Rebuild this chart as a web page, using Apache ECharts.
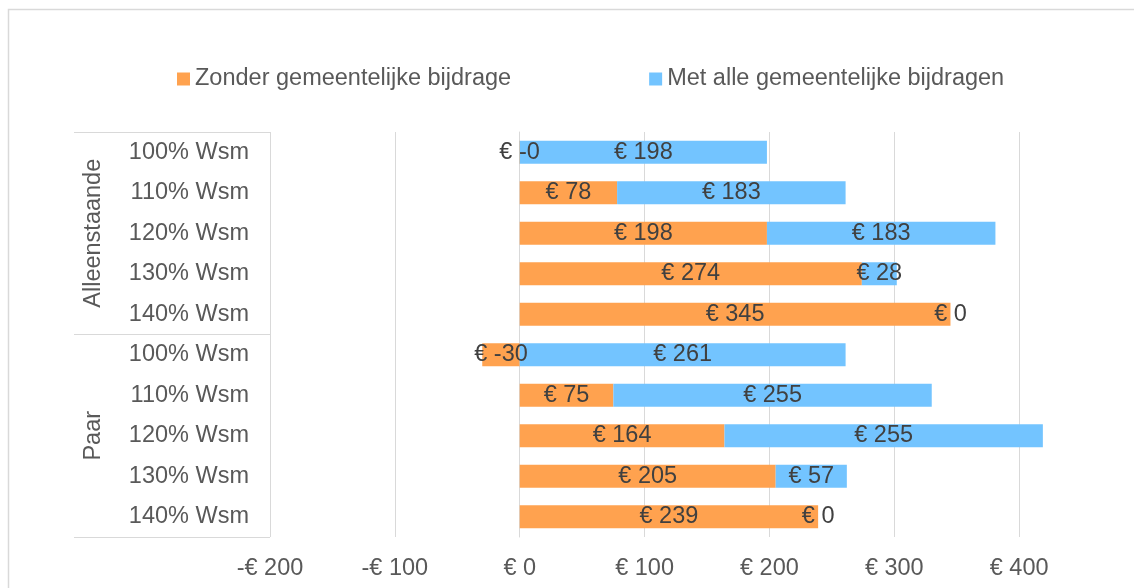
<!DOCTYPE html>
<html>
<head>
<meta charset="utf-8">
<script src="https://cdn.jsdelivr.net/npm/echarts@6/dist/echarts.min.js"></script>
<style>
  html, body { margin: 0; padding: 0; background: #fff; }
  #chart { width: 1134px; height: 588px; }
</style>
</head>
<body>
<div id="chart"></div>
<script>
// categorieën
const categories = [
  '100% Wsm', '110% Wsm', '120% Wsm', '130% Wsm', '140% Wsm',
  '100% Wsm', '110% Wsm', '120% Wsm', '130% Wsm', '140% Wsm'
];
const groups = ['Alleenstaande', 'Paar'];

// waarden per reeks
const zonderBijdrage = [-0.3, 78, 198, 274, 345, -30, 75, 164, 205, 239];
const metBijdragen = [198, 183, 183, 28, 0, 261, 255, 255, 57, 0];

const xTicks = { min: -200, max: 500, step: 100 };

const font = "'Liberation Sans', Arial, sans-serif";
const gridColor = '#d9d9d9';

function euro(v) {
  const r = Math.round(Math.abs(v));
  return v < 0 ? '€ -' + r : '€ ' + r;
}

const chartOpts = {
  animation: false,
  textStyle: { fontFamily: font },
  legend: {
    left: 172,
    top: 62,
    icon: 'rect',
    itemWidth: 13,
    itemHeight: 13,
    itemGap: 138,
    textStyle: { fontSize: 23.5, color: '#595959', fontFamily: font },
    data: ['Zonder gemeentelijke bijdrage', 'Met alle gemeentelijke bijdragen']
  },
  grid: {
    left: 270,
    top: 132,
    width: 874,
    height: 405,
    outerBoundsMode: 'none'
  },
  xAxis: {
    type: 'value',
    min: xTicks.min,
    max: xTicks.max,
    interval: xTicks.step,
    axisLine: { show: false },
    axisTick: { show: false },
    splitLine: { lineStyle: { color: gridColor, width: 1 } },
    axisLabel: {
      showMaxLabel: false,
      margin: 20,
      fontSize: 23.5,
      color: '#595959',
      fontFamily: font,
      formatter: v => v < 0 ? '-€ ' + Math.abs(v) : '€ ' + v
    }
  },
  yAxis: [
    {
      type: 'category',
      inverse: true,
      data: categories,
      axisLine: { show: true, lineStyle: { color: gridColor, width: 1 } },
      axisTick: { show: false },
      axisLabel: {
        margin: 21,
        fontSize: 23.5,
        color: '#595959',
        fontFamily: font
      }
    },
    {
      type: 'category',
      inverse: true,
      position: 'left',
      data: groups,
      axisLine: { show: false },
      axisTick: {
        show: true,
        interval: 0,
        length: 196,
        lineStyle: { color: gridColor, width: 1 }
      },
      axisLabel: {
        rotate: 90,
        margin: 164,
        fontSize: 23.5,
        color: '#595959',
        fontFamily: font
      }
    }
  ],
  series: [
    {
      name: 'Zonder gemeentelijke bijdrage',
      type: 'bar',
      stack: 'totaal',
      yAxisIndex: 0,
      barCategoryGap: '43%',
      itemStyle: { color: '#ffa24f' },
      label: {
        show: true,
        position: 'inside',
        fontSize: 23.5,
        color: '#404040',
        fontFamily: font,
        formatter: p => euro(p.value)
      },
      data: zonderBijdrage
    },
    {
      name: 'Met alle gemeentelijke bijdragen',
      type: 'bar',
      stack: 'totaal',
      yAxisIndex: 0,
      barCategoryGap: '43%',
      itemStyle: { color: '#73c4ff' },
      label: {
        show: true,
        position: 'inside',
        fontSize: 23.5,
        color: '#404040',
        fontFamily: font,
        formatter: p => euro(p.value)
      },
      data: metBijdragen
    }
  ],
  graphic: [
    {
      type: 'rect',
      silent: true,
      shape: { x: 8.5, y: 9.5, width: 1400, height: 900 },
      style: { fill: 'none', stroke: gridColor, lineWidth: 1.5 }
    }
  ]
};

const chart = echarts.init(document.getElementById('chart'));
chart.setOption(chartOpts);
</script>
</body>
</html>
